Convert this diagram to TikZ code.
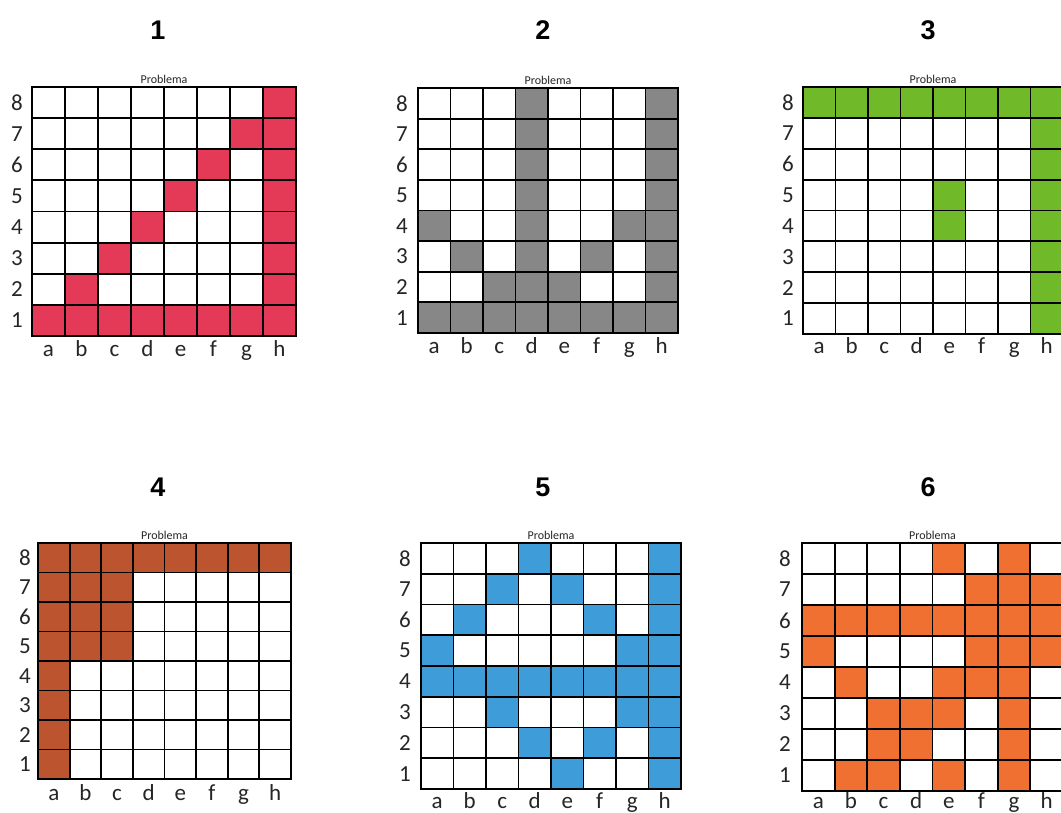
\documentclass[tikz,border=0pt]{standalone}
\usepackage{fontspec}
\setmainfont{Carlito}
\newfontfamily\titlefont{Liberation Sans}
\definecolor{cred}{RGB}{228,58,88}
\definecolor{cgray}{RGB}{135,135,135}
\definecolor{cgreen}{RGB}{112,186,42}
\definecolor{cbrown}{RGB}{188,84,48}
\definecolor{cblue}{RGB}{62,156,216}
\definecolor{corange}{RGB}{240,112,50}
\tikzset{
  gridline/.style={draw=black, line width=1.8pt, line cap=rect},
  rowlab/.style={inner sep=0pt, font=\fontsize{23}{25}\selectfont, text=black!85},
  collab/.style={inner sep=0pt, anchor=base, font=\fontsize{23}{25}\selectfont, text=black!85},
  problab/.style={inner sep=0pt, anchor=base, font=\fontsize{12}{13}\selectfont, text=black!85},
  titlelab/.style={inner sep=0pt, font=\titlefont\bfseries\fontsize{27}{30}\selectfont}
}
% #1 id, #2 left, #3 top, #4 right, #5 bottom, #6 colour, #7 cells col/row, #8 row-label x, #9 col-label baseline y
\newcommand\chessgrid[9]{%
  \pgfmathsetmacro\gw{(#4-#2)/8}%
  \pgfmathsetmacro\gh{(#5-#3)/8}%
  \foreach \c/\r in {#7} {\fill[#6] ({#2+(\c-1)*\gw},{#5-\r*\gh}) rectangle ({#2+\c*\gw},{#5-(\r-1)*\gh});}
  \foreach \i in {0,...,8} {%
    \draw[gridline] ({#2+\i*\gw},#3) -- ({#2+\i*\gw},#5);
    \draw[gridline] (#2,{#3+\i*\gh}) -- (#4,{#3+\i*\gh});
  }
  \foreach \r in {1,...,8} {\node[rowlab] (#1-r\r) at (#8,{#5-(\r-0.5)*\gh}) {\r};}
  \foreach \l [count=\c] in {a,b,c,d,e,f,g,h} {\node[collab] (#1-c\l) at ({#2+(\c-0.5)*\gw},#9) {\l};}
  \node[problab] (#1-prob) at ({(#2+#4)/2},{#3-4}) {Problema};
}
\begin{document}
\begin{tikzpicture}[x=1pt,y=-1pt]
\useasboundingbox (0,0) rectangle (1061,812);
\clip (0,0) rectangle (1061,812);
\fill[white] (0,0) rectangle (1061,812);
\node[titlelab] (t1) at (158,30) {1};
\node[titlelab] (t2) at (543,30) {2};
\node[titlelab] (t3) at (928,30) {3};
\node[titlelab] (t4) at (158,487) {4};
\node[titlelab] (t5) at (543,487) {5};
\node[titlelab] (t6) at (928,487) {6};
\chessgrid{g1}{32}{87}{296}{336}{cred}{1/1,2/1,3/1,4/1,5/1,6/1,7/1,8/1,8/2,8/3,8/4,8/5,8/6,8/7,8/8,2/2,3/3,4/4,5/5,6/6,7/7}{17}{356}
\chessgrid{g2}{418}{88}{678}{333}{cgray}{1/1,2/1,3/1,4/1,5/1,6/1,7/1,8/1,4/2,4/3,4/4,4/5,4/6,4/7,4/8,8/2,8/3,8/4,8/5,8/6,8/7,8/8,1/4,2/3,3/2,5/2,6/3,7/4}{402}{353}
\chessgrid{g3}{803}{87}{1063}{334}{cgreen}{1/8,2/8,3/8,4/8,5/8,6/8,7/8,8/8,8/1,8/2,8/3,8/4,8/5,8/6,8/7,5/4,5/5}{788}{353}
\chessgrid{g4}{38}{543}{291}{779}{cbrown}{1/8,2/8,3/8,4/8,5/8,6/8,7/8,8/8,1/1,1/2,1/3,1/4,1/5,1/6,1/7,2/5,2/6,2/7,3/5,3/6,3/7}{25}{800}
\chessgrid{g5}{421}{543}{681}{789}{cblue}{4/8,8/8,3/7,5/7,8/7,2/6,6/6,8/6,1/5,7/5,8/5,1/4,2/4,3/4,4/4,5/4,6/4,7/4,8/4,3/3,7/3,8/3,4/2,6/2,8/2,5/1,8/1}{405}{808}
\chessgrid{g6}{802}{543}{1063}{791}{corange}{5/8,7/8,6/7,7/7,8/7,1/6,2/6,3/6,4/6,5/6,6/6,7/6,8/6,1/5,6/5,7/5,8/5,2/4,5/4,6/4,7/4,3/3,4/3,5/3,7/3,3/2,4/2,7/2,2/1,3/1,5/1,7/1}{785}{808}
\end{tikzpicture}
\end{document}
